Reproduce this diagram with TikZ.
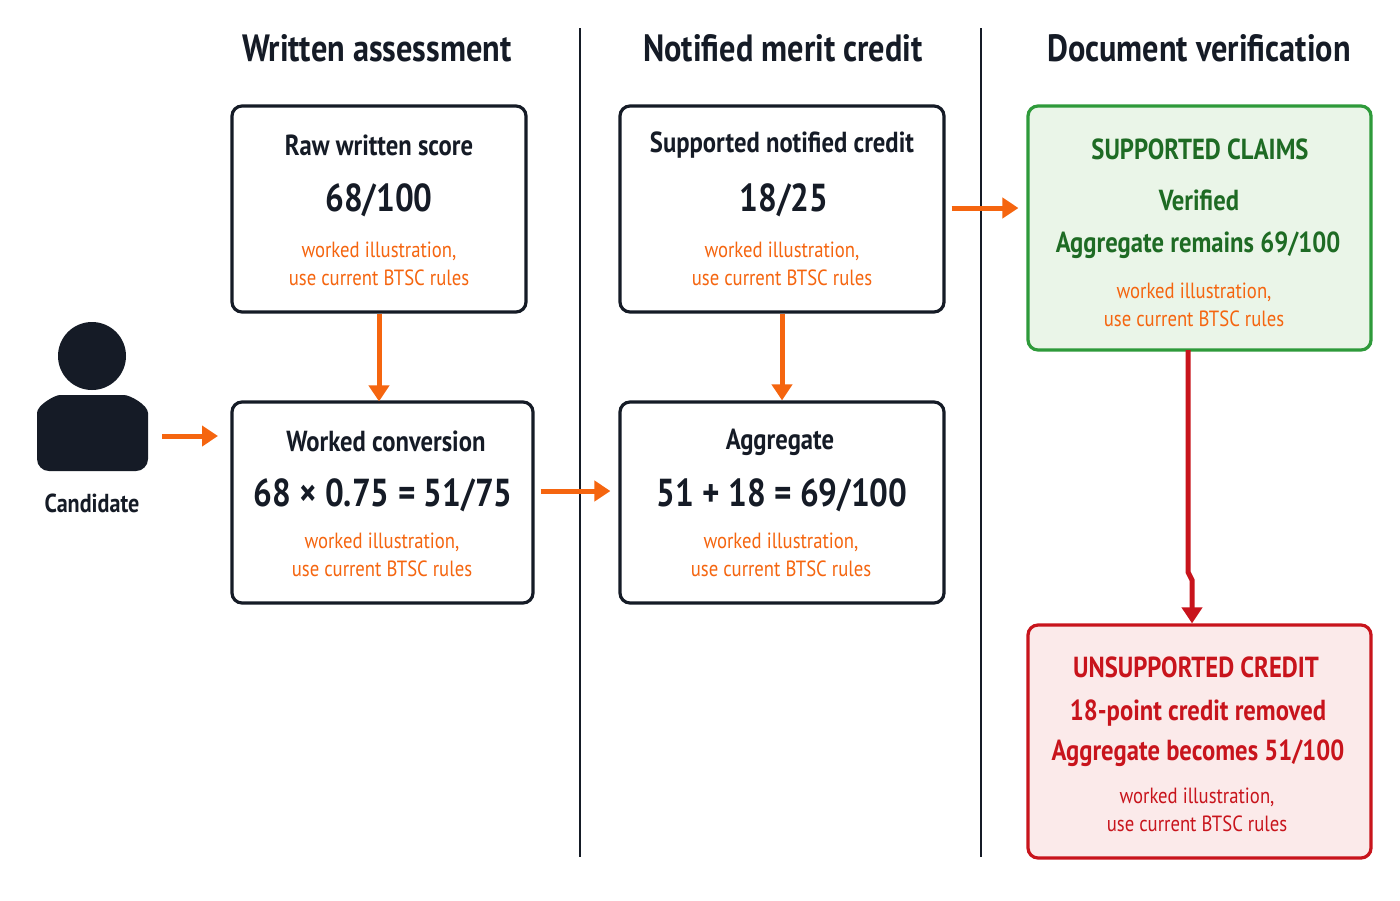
\documentclass[tikz,border=0pt]{standalone}
\usepackage{fontspec}
\setmainfont{PT Sans}[FakeStretch=0.85]
\usetikzlibrary{arrows.meta}
\definecolor{ink}{HTML}{151B26}
\definecolor{org}{HTML}{F5650F}
\definecolor{grn}{HTML}{1E6B24}
\definecolor{grnf}{HTML}{EAF5E8}
\definecolor{grnd}{HTML}{2E9A3A}
\definecolor{red1}{HTML}{C8141C}
\definecolor{redf}{HTML}{FBEAEA}
\tikzset{
 box/.style={draw=ink,line width=1.6pt,rounded corners=5pt,fill=white},
 hdr/.style={font=\fontsize{19}{21}\selectfont\bfseries,text=ink},
 ttl/.style={font=\fontsize{14.5}{17}\selectfont\bfseries,text=ink},
 big/.style={font=\fontsize{19.5}{22}\selectfont\bfseries,text=ink},
 note/.style={font=\fontsize{11}{14}\selectfont,text=org,align=center},
 oarr/.style={draw=org,line width=2.5pt,-{Triangle[length=8pt,width=10pt]}},
}
\begin{document}
\begin{tikzpicture}[x=0.5pt,y=-0.5pt]
\useasboundingbox[fill=white] (0,0) rectangle (1400,900);
\draw[ink,line width=1pt] (580,28) -- (580,857);
\draw[ink,line width=1pt] (981,28) -- (981,857);
\node[hdr] (h1) at (377,48) {Written assessment};
\node[hdr] (h2) at (783,48) {Notified merit credit};
\node[hdr] (h3) at (1199,48) {Document verification};
% boxes
\node[box,minimum width=147pt,minimum height=103pt] (raw) at (379,209) {};
\node[box,minimum width=150.5pt,minimum height=100.5pt] (conv) at (382.5,502.5) {};
\node[box,minimum width=162pt,minimum height=103pt] (sup) at (782,209) {};
\node[box,minimum width=162pt,minimum height=100.5pt] (agg) at (782,502.5) {};
\node[box,draw=grnd,fill=grnf,minimum width=171.5pt,minimum height=122pt] (ok) at (1199.5,228) {};
\node[box,draw=red1,fill=redf,minimum width=171.5pt,minimum height=116.5pt] (bad) at (1199.5,741.5) {};
% texts
\node[ttl] (t1) at (379,145) {Raw written score};
\node[big] (n1) at (379,200) {68/100};
\node[note] (o1) at (379,264) {worked illustration,\\use current BTSC rules};
\node[ttl] (t2) at (386,441) {Worked conversion};
\node[big] (n2) at (383,495) {68 × 0.75 = 51/75};
\node[note] (o2) at (382,555) {worked illustration,\\use current BTSC rules};
\node[ttl] (t3) at (782,145) {Supported notified credit};
\node[big] (n3) at (784,200) {18/25};
\node[note] (o3) at (782,264) {worked illustration,\\use current BTSC rules};
\node[ttl] (t4) at (780,442) {Aggregate};
\node[big] (n4) at (782,495) {51 + 18 = 69/100};
\node[note] (o4) at (781,555) {worked illustration,\\use current BTSC rules};
\node[ttl,text=grn] (t5) at (1200,149) {SUPPORTED CLAIMS};
\node[ttl,text=grn] (t5b) at (1199,200) {Verified};
\node[ttl,text=grn] (t5c) at (1198,245) {Aggregate remains 69/100};
\node[note] (o5) at (1194,305) {worked illustration,\\use current BTSC rules};
\node[ttl,text=red1] (t6) at (1196,667) {UNSUPPORTED CREDIT};
\node[ttl,text=red1] (t6b) at (1198,713) {18-point credit removed};
\node[ttl,text=red1] (t6c) at (1198,753) {Aggregate becomes 51/100};
\node[note,text=red1] (o6) at (1197,810) {worked illustration,\\use current BTSC rules};
% candidate
\fill[ink] (92,356) circle (17pt);
\fill[ink,rounded corners=6pt] (37,471) -- (37,425) .. controls (37,405) and (55,395) .. (72,395) -- (112,395) .. controls (130,395) and (148,405) .. (148,425) -- (148,471) -- cycle;
\node[font=\fontsize{13}{15}\selectfont\bfseries,text=ink] (cand) at (92,503) {Candidate};
\coordinate (c1) at (162,436);
\coordinate (c2) at (218,436);
\draw[oarr] (c1) -- (c2);
\draw[oarr] (raw.south) -- ([yshift=-0.5pt]conv.north -| raw.south);
\draw[oarr] ([xshift=3pt]conv.east |- 0,491) -- ([xshift=-4pt]agg.west |- 0,491);
\draw[oarr] (sup.south) -- (agg.north);
\draw[oarr] ([xshift=3pt]sup.east |- 0,208) -- ([xshift=-4pt]ok.west |- 0,208);
\draw[red1,line width=2.5pt,-{Triangle[length=8pt,width=10pt]}] (1188,350) -- (1188,572) -- (1192,580) -- (bad.north -| 1192,0);
\end{tikzpicture}
\end{document}
